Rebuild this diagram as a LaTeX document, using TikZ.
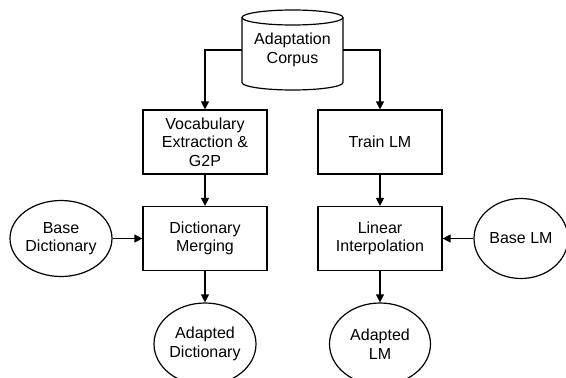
\documentclass[tikz,border=0pt]{standalone}
\usepackage{fontspec}
\setmainfont{Liberation Sans}
\usetikzlibrary{shapes.geometric,arrows.meta}
\tikzset{
  base/.style={line width=1.2pt, draw=black},
  procbox/.style={base, rectangle, minimum width=124pt, minimum height=64pt, align=center, inner sep=0pt},
  dataell/.style={base, ellipse, align=center, inner sep=0pt},
  arr/.style={line width=1.2pt, -{Triangle[length=8pt,width=8pt]}},
  every node/.style={font=\fontsize{16pt}{18.5pt}\selectfont}
}
\begin{document}
\begin{tikzpicture}[x=1pt,y=-1pt]
\useasboundingbox (0,0) rectangle (566,378);
% cylinder
\node[align=center, minimum width=101pt, minimum height=80pt, inner sep=0pt] (corpus) at (292.5,50) {Adaptation\\Corpus};
\draw[base] (292.5,17.5) ellipse [x radius=50.5, y radius=7.5];
\draw[base] (242,17.5) -- (242,82.5) arc[start angle=180, end angle=0, x radius=50.5, y radius=7.5] -- (343,17.5);
% boxes
\node[procbox] (voc) at (205,142) {Vocabulary\\Extraction \&\\G2P};
\node[procbox] (train) at (380,142) {Train LM};
\node[procbox] (merge) at (205,238.5) {Dictionary\\Merging};
\node[procbox] (interp) at (380,238.5) {Linear\\Interpolation};
% ellipses
\node[dataell, minimum width=102pt, minimum height=76pt] (basedict) at (61,238.5) {Base\\Dictionary};
\node[dataell, minimum width=94pt, minimum height=80pt] (baselm) at (521,238.5) {Base LM};
\node[dataell, minimum width=102pt, minimum height=82pt] (adict) at (205,344) {Adapted\\Dictionary};
\node[dataell, minimum width=101pt, minimum height=82pt] (alm) at (380,344) {Adapted\\LM};
% connectors
\draw[arr] (corpus.west) -| (voc.north);
\draw[arr] (corpus.east) -| (train.north);
\draw[arr] (voc) -- (merge);
\draw[arr] (train) -- (interp);
\draw[arr] (basedict) -- (merge);
\draw[arr] (baselm) -- (interp);
\draw[arr] (merge) -- (adict);
\draw[arr] (interp) -- (alm);
\end{tikzpicture}
\end{document}
